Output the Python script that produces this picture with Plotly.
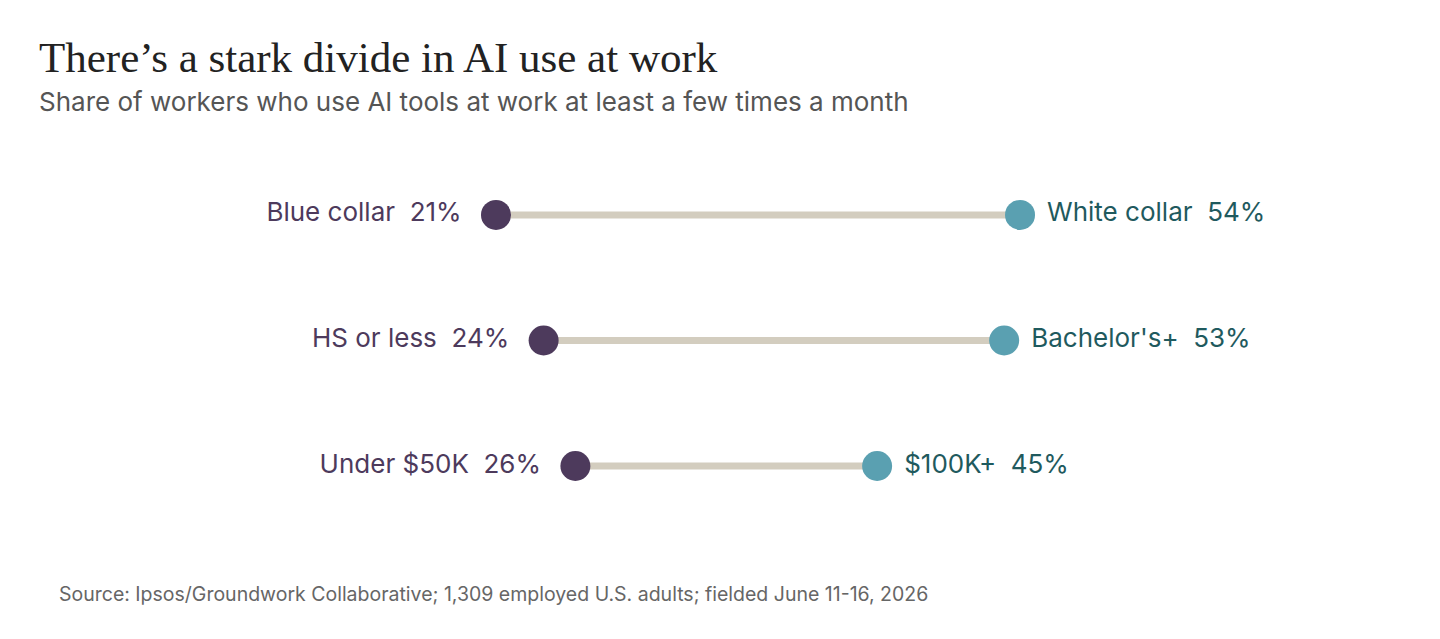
import plotly.graph_objects as go

low_labels = ["Blue collar", "HS or less", "Under $50K"]
low_values = [21, 24, 26]
high_labels = ["White collar", "Bachelor's+", "$100K+"]
high_values = [54, 53, 45]
rows = [0, 1, 2]

purple = "#4d3a5c"
teal = "#5aa0b1"
teal_text = "#1f5a5e"

fig = go.Figure()

for r, lo, hi in zip(rows, low_values, high_values):
    fig.add_trace(go.Scatter(x=[lo, hi], y=[r, r], mode="lines",
                             line=dict(color="#d3cdbf", width=7),
                             hoverinfo="skip", showlegend=False))

fig.add_trace(go.Scatter(
    x=low_values, y=rows, mode="markers+text",
    marker=dict(color=purple, size=30),
    text=[f"{l}  {v}%  " for l, v in zip(low_labels, low_values)],
    textposition="middle left",
    textfont=dict(family="Inter", size=26, color=purple),
    showlegend=False))

fig.add_trace(go.Scatter(
    x=high_values, y=rows, mode="markers+text",
    marker=dict(color=teal, size=30),
    text=[f" {l}  {v}%" for l, v in zip(high_labels, high_values)],
    textposition="middle right",
    textfont=dict(family="Inter", size=26, color=teal_text),
    showlegend=False))

fig.update_layout(
    width=1440, height=639,
    margin=dict(l=0, r=0, t=0, b=0),
    paper_bgcolor="white", plot_bgcolor="white",
    xaxis=dict(range=[-9.73, 80.95], visible=False),
    yaxis=dict(range=[3.442, -1.649], visible=False),
    annotations=[
        dict(text="There’s a stark divide in AI use at work", x=29 / 1440, y=1 - 49 / 639,
             xref="paper", yref="paper", xanchor="left", yanchor="middle", showarrow=False,
             font=dict(family="Liberation Serif", size=43, color="#222")),
        dict(text="Share of workers who use AI tools at work at least a few times a month",
             x=29 / 1440, y=1 - 93 / 639, xref="paper", yref="paper", xanchor="left",
             yanchor="middle", showarrow=False,
             font=dict(family="Inter", size=26, color="#555")),
        dict(text="Source: Ipsos/Groundwork Collaborative; 1,309 employed U.S. adults; fielded June 11-16, 2026",
             x=49 / 1440, y=1 - 586 / 639, xref="paper", yref="paper", xanchor="left",
             yanchor="middle", showarrow=False,
             font=dict(family="Inter", size=19.5, color="#666")),
    ],
)

fig.write_html("out.html")
